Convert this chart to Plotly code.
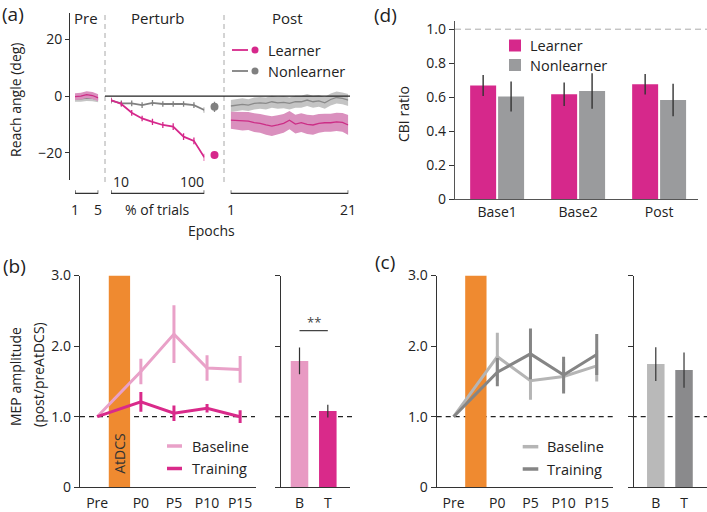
import plotly.graph_objects as go

W, H = 707, 512


def X(px):
    return px / W


def Y(py):
    return 1 - py / H


# ---------------- data ----------------
# (a) reach angle
pre_epochs = [1, 2, 3, 4, 5]
pre_learner = [-0.2, 0.0, 0.5, 0.2, -0.6]
pre_learner_sem = [1.2, 1.2, 1.2, 1.2, 1.2]
pre_nonlearner = [-1.0, -1.0, -0.7, -0.8, -1.2]
pre_nonlearner_sem = [1.0, 1.0, 1.0, 1.0, 1.0]

perturb_pct = [10, 20, 30, 40, 50, 60, 70, 80, 90, 100]
perturb_learner = [-1.4, -2.8, -5.9, -7.9, -9.1, -10.2, -10.8, -14.3, -15.8, -21.6]
perturb_learner_sem = [0.8, 0.9, 1.0, 1.0, 1.1, 1.1, 1.2, 1.2, 1.2, 1.3]
perturb_nonlearner = [-1.6, -2.6, -2.6, -3.2, -2.4, -2.8, -2.8, -2.8, -3.2, -4.9]
perturb_nonlearner_sem = [1.0, 1.0, 1.0, 1.0, 1.0, 1.0, 1.0, 1.0, 1.0, 1.0]

summary_learner = [-20.8]
summary_learner_sem = [1.2]
summary_nonlearner = [-3.8]
summary_nonlearner_sem = [1.8]

post_epochs = list(range(1, 22))
post_learner = [-8.5, -8.6, -8.9, -8.8, -9.4, -9.6, -10.2, -10.6, -10.2, -9.6, -8.5,
                -9.9, -9.4, -10.0, -10.2, -9.6, -9.4, -9.4, -9.1, -9.3, -10.2]
post_learner_sem = [3.0, 3.1, 3.2, 3.2, 3.3, 3.3, 3.4, 3.5, 3.4, 3.3, 3.2,
                    3.3, 3.3, 3.4, 3.4, 3.3, 3.2, 3.2, 3.2, 3.3, 3.5]
post_nonlearner = [-3.5, -3.2, -2.9, -3.2, -2.6, -2.4, -2.6, -2.0, -2.4, -2.2, -2.6,
                   -2.0, -2.0, -1.4, -2.0, -1.7, -2.4, -1.2, -0.5, -0.8, -1.4]
post_nonlearner_sem = [2.1] * 21

# (d) CBI ratio
cbi_conditions = ["Base1", "Base2", "Post"]
cbi_learner = [0.669, 0.618, 0.676]
cbi_learner_sem = [0.062, 0.069, 0.060]
cbi_nonlearner = [0.604, 0.637, 0.584]
cbi_nonlearner_sem = [0.088, 0.104, 0.096]

# (b)/(c) MEP amplitude
mep_labels = ["Pre", "P0", "P5", "P10", "P15"]
mep_time = [-6.6, 0, 5, 10, 15]
stim_window = [-4.85, -1.63]
stim_height = 3.0

b_baseline = [1.0, 1.64, 2.17, 1.69, 1.67]
b_baseline_sem = [0, 0.18, 0.41, 0.18, 0.19]
b_training = [1.0, 1.21, 1.05, 1.12, 1.0]
b_training_sem = [0, 0.14, 0.11, 0.06, 0.09]
b_bar_labels = ["B", "T"]
b_bar = [1.79, 1.08]
b_bar_sem = [0.19, 0.09]

c_baseline = [1.0, 1.85, 1.51, 1.57, 1.72]
c_baseline_sem = [0, 0.34, 0.27, 0.20, 0.22]
c_training = [1.0, 1.63, 1.89, 1.59, 1.88]
c_training_sem = [0, 0.20, 0.36, 0.26, 0.29]
c_bar_labels = ["B", "T"]
c_bar = [1.745, 1.66]
c_bar_sem = [0.24, 0.25]

# ---------------- style ----------------
MAG = "#D6288B"
MAG_BAND = "#DA90BE"
MAG_LINE = "#CC2E86"
GRY = "#808080"
GRY_BAND = "#C4C4C4"
GRY_LINE = "#8A8A8A"
ORANGE = "#EF8A30"
B_PINK = "#E9A1C8"
B_PINK_BAR = "#E89AC3"
T_PINK = "#D92A8A"
C_LIGHT = "#B5B5B5"
C_DARK = "#858585"
AX = "#333333"
FONT = "Open Sans"

fig = go.Figure()


def band(xs, m, s, xaxis, fillcolor, linecolor):
    up = [a + b for a, b in zip(m, s)]
    lo = [a - b for a, b in zip(m, s)]
    fig.add_trace(go.Scatter(x=list(xs) + list(xs)[::-1], y=up + lo[::-1], fill="toself",
                             fillcolor=fillcolor, line=dict(width=0), mode="lines",
                             xaxis=xaxis, yaxis="y", hoverinfo="skip"))
    fig.add_trace(go.Scatter(x=xs, y=m, mode="lines", line=dict(color=linecolor, width=1.3),
                             xaxis=xaxis, yaxis="y", hoverinfo="skip"))


# ---- (a) ----
band(pre_epochs, pre_nonlearner, pre_nonlearner_sem, "x", GRY_BAND, GRY_LINE)
band(pre_epochs, pre_learner, pre_learner_sem, "x", MAG_BAND, MAG_LINE)
band(post_epochs, post_nonlearner, post_nonlearner_sem, "x4", GRY_BAND, GRY_LINE)
band(post_epochs, post_learner, post_learner_sem, "x4", MAG_BAND, MAG_LINE)

fig.add_trace(go.Scatter(x=perturb_pct, y=perturb_nonlearner, mode="lines", xaxis="x2", yaxis="y",
                         line=dict(color=GRY, width=1.8),
                         error_y=dict(type="data", array=perturb_nonlearner_sem, color=GRY,
                                      thickness=1.3, width=0)))
fig.add_trace(go.Scatter(x=perturb_pct, y=perturb_learner, mode="lines", xaxis="x2", yaxis="y",
                         line=dict(color=MAG, width=1.8),
                         error_y=dict(type="data", array=perturb_learner_sem, color=MAG,
                                      thickness=1.3, width=0)))
fig.add_trace(go.Scatter(x=[0], y=summary_nonlearner, mode="markers", xaxis="x3", yaxis="y",
                         marker=dict(color=GRY, size=8),
                         error_y=dict(type="data", array=summary_nonlearner_sem, color=GRY,
                                      thickness=1.3, width=0)))
fig.add_trace(go.Scatter(x=[0], y=summary_learner, mode="markers", xaxis="x3", yaxis="y",
                         marker=dict(color=MAG, size=8),
                         error_y=dict(type="data", array=summary_learner_sem, color=MAG,
                                      thickness=1.3, width=0)))

# ---- (d) ----
fig.add_trace(go.Bar(x=cbi_conditions, y=cbi_learner, marker=dict(color=MAG, line=dict(width=0)),
                     xaxis="x5", yaxis="y5",
                     error_y=dict(type="data", array=cbi_learner_sem, color="#333", thickness=1.4, width=0)))
fig.add_trace(go.Bar(x=cbi_conditions, y=cbi_nonlearner, marker=dict(color="#9A9B9D", line=dict(width=0)),
                     xaxis="x5", yaxis="y5",
                     error_y=dict(type="data", array=cbi_nonlearner_sem, color="#333", thickness=1.4, width=0)))


# ---- (b) & (c) ----
def mep_panel(xa, ya, xr, yr, base, base_sem, train, train_sem, cbase, ctrain,
              bar_labels, bars, bars_sem, bar_colors):
    fig.add_trace(go.Bar(x=[(stim_window[0] + stim_window[1]) / 2], y=[stim_height],
                         width=[stim_window[1] - stim_window[0]],
                         marker=dict(color=ORANGE, line=dict(width=0)), xaxis=xa, yaxis=ya))
    fig.add_trace(go.Scatter(x=mep_time, y=base, mode="lines", xaxis=xa, yaxis=ya,
                             line=dict(color=cbase, width=3),
                             error_y=dict(type="data", array=base_sem, color=cbase, thickness=3, width=0)))
    fig.add_trace(go.Scatter(x=mep_time, y=train, mode="lines", xaxis=xa, yaxis=ya,
                             line=dict(color=ctrain, width=3),
                             error_y=dict(type="data", array=train_sem, color=ctrain, thickness=3, width=0)))
    fig.add_trace(go.Bar(x=bar_labels, y=bars, width=0.62,
                         marker=dict(color=bar_colors, line=dict(width=0)), xaxis=xr, yaxis=yr,
                         error_y=dict(type="data", array=bars_sem, color="#333", thickness=1.2, width=0)))


mep_panel("x6", "y6", "x7", "y7", b_baseline, b_baseline_sem, b_training, b_training_sem,
          B_PINK, T_PINK, b_bar_labels, b_bar, b_bar_sem, [B_PINK_BAR, T_PINK])
mep_panel("x8", "y8", "x9", "y9", c_baseline, c_baseline_sem, c_training, c_training_sem,
          C_LIGHT, C_DARK, c_bar_labels, c_bar, c_bar_sem, ["#B9B9B9", "#8A8A8C"])

# ---------------- axes ----------------
hidden = dict(visible=False, showgrid=False, zeroline=False, fixedrange=True, automargin=False)
yb = [Y(487.3), Y(275.5)]
common_y = dict(showgrid=False, zeroline=False, showline=True, linecolor=AX, linewidth=1.4,
                ticks="outside", ticklen=5, tickcolor=AX, tickwidth=1.3, automargin=False,
                tickfont=dict(size=14, color="#222"))
common_x = dict(showgrid=False, zeroline=False, showline=True, linecolor=AX, linewidth=1.4,
                ticks="", automargin=False, tickfont=dict(size=14, color="#222"))

fig.update_layout(
    width=W, height=H, margin=dict(l=0, r=0, t=0, b=0, pad=0, autoexpand=False),
    paper_bgcolor="white", plot_bgcolor="white", showlegend=False,
    font=dict(family=FONT, size=14, color="#222"),
    barmode="group", bargap=0.31, bargroupgap=0.07,
    # (a)
    yaxis=dict(common_y, domain=[Y(180), Y(13)], range=[-29.6, 29.3], anchor="free",
               position=X(69.3), tickvals=[-20, 0, 20], ticklen=4),
    xaxis=dict(hidden, domain=[X(75), X(98.3)], range=[1, 5], anchor="y"),
    xaxis2=dict(hidden, domain=[X(111), X(204.3)], range=[10, 100], anchor="y"),
    xaxis3=dict(hidden, domain=[X(208), X(221)], range=[-1, 1], anchor="y"),
    xaxis4=dict(hidden, domain=[X(230.7), X(348.3)], range=[1, 21], anchor="y"),
    # (d)
    xaxis5=dict(common_x, domain=[X(455), X(698)], range=[-0.52, 2.48], anchor="y5",
                linecolor="#555"),
    yaxis5=dict(common_y, domain=[Y(199.3), Y(20.7)], range=[0, 1.05], anchor="x5",
                linecolor="#555", tickvals=[0, 0.2, 0.4, 0.6, 0.8, 1.0],
                ticktext=["0", "0.2", "0.4", "0.6", "0.8", "1.0"]),
    # (b)
    xaxis6=dict(common_x, domain=[X(80), X(256)], range=[-9.2, 17.4], anchor="y6",
                tickvals=mep_time, ticktext=mep_labels, ticklabelstandoff=3),
    yaxis6=dict(common_y, domain=yb, range=[0, 3], anchor="x6", tickvals=[0, 1, 2, 3],
                ticktext=["0", "1.0", "2.0", "3.0"]),
    xaxis7=dict(common_x, domain=[X(281), X(350)], range=[-0.654, 1.784], anchor="y7",
                type="category", ticklabelstandoff=3),
    yaxis7=dict(common_y, domain=yb, range=[0, 3], anchor="x7", tickvals=[0, 1, 2, 3],
                showticklabels=False),
    # (c)
    xaxis8=dict(common_x, domain=[X(436.7), X(613.3)], range=[-9.15, 17.5], anchor="y8",
                tickvals=mep_time, ticktext=mep_labels, ticklabelstandoff=3),
    yaxis8=dict(common_y, domain=yb, range=[0, 3], anchor="x8", tickvals=[0, 1, 2, 3],
                ticktext=["0", "1.0", "2.0", "3.0"]),
    xaxis9=dict(common_x, domain=[X(634), 1.0], range=[-0.772, 1.814], anchor="y9",
                type="category", ticklabelstandoff=3),
    yaxis9=dict(common_y, domain=yb, range=[0, 3], anchor="x9", tickvals=[0, 1, 2, 3],
                showticklabels=False),
)

# ---------------- shapes ----------------
shapes = []
# (a) dividers and zero line
for px in (105, 224):
    shapes.append(dict(type="line", xref="paper", yref="paper", x0=X(px), x1=X(px),
                       y0=Y(182), y1=Y(13), line=dict(color="#A8A8A8", width=1, dash="5px,4px")))
shapes.append(dict(type="line", xref="paper", yref="y", x0=X(105), x1=X(350), y0=0, y1=0,
                   line=dict(color="#222", width=1.3)))
# brackets under (a)
tk = 3 / H
for xa, xs in (("x", pre_epochs), ("x2", perturb_pct), ("x4", post_epochs)):
    a0, a1 = min(xs), max(xs)
    y0 = Y(193.3)
    shapes.append(dict(type="path", xref=xa, yref="paper",
                       path=f"M {a0},{y0 + tk} L {a0},{y0} L {a1},{y0} L {a1},{y0 + tk}",
                       line=dict(color=AX, width=1.3)))
# (d) dashed reference at 1.0
shapes.append(dict(type="line", xref="paper", yref="y5", x0=X(455), x1=1.0, y0=1.0, y1=1.0,
                   line=dict(color="#AAAAAA", width=1, dash="6px,4px"), layer="below"))
# (b),(c) dashed at 1.0
for ya, x0, x1 in (("y6", 80, 255), ("y7", 275, 352), ("y8", 436.7, 613.3), ("y9", 631.7, 707)):
    shapes.append(dict(type="line", xref="paper", yref=ya, x0=X(x0), x1=X(x1), y0=1.0, y1=1.0,
                       line=dict(color="#222", width=1.2, dash="5px,4px"), layer="below"))
# significance bar in (b)
shapes.append(dict(type="line", xref="x7", yref="y7", x0=0, x1=1, y0=2.22, y1=2.22,
                   line=dict(color="#444", width=1.2)))

# legends (a)
for yy, col in ((50, MAG), (71, GRY)):
    shapes.append(dict(type="line", xref="paper", yref="paper", x0=X(232), x1=X(248),
                       y0=Y(yy), y1=Y(yy), line=dict(color=col, width=1.8)))
    shapes.append(dict(type="circle", xref="paper", yref="paper", x0=X(251.5), x1=X(258.5),
                       y0=Y(yy + 3.5), y1=Y(yy - 3.5), fillcolor=col, line=dict(width=0)))
# legend (d)
for yy, col in ((45.5, MAG), (65, "#9A9B9D")):
    shapes.append(dict(type="rect", xref="paper", yref="paper", x0=X(509), x1=X(521),
                       y0=Y(yy + 6), y1=Y(yy - 6), fillcolor=col, line=dict(width=0)))
# legends (b), (c)
for x0, x1, yy, col in ((167, 182, 446, B_PINK), (167, 182, 468.5, T_PINK),
                        (522.7, 538.3, 446.7, C_LIGHT), (522.7, 538.3, 469, C_DARK)):
    shapes.append(dict(type="line", xref="paper", yref="paper", x0=X(x0), x1=X(x1),
                       y0=Y(yy), y1=Y(yy), line=dict(color=col, width=3.5)))
fig.update_layout(shapes=shapes)

# ---------------- annotations ----------------
ann = []


def txt(text, x, y, size=14, xref="paper", yref="paper", xanchor="center", angle=0, color="#222", **kw):
    ann.append(dict(text=text, x=x, y=y, xref=xref, yref=yref, showarrow=False, xanchor=xanchor,
                    yanchor="middle", textangle=angle, font=dict(size=size, color=color, family=FONT), **kw))


# panel labels
txt("(a)", X(13), Y(14), size=19)
txt("(d)", X(385), Y(15), size=19)
txt("(b)", X(14), Y(266), size=19)
txt("(c)", X(385), Y(262), size=19)
# (a)
txt("Pre", X(86), Y(18), size=15)
txt("Perturb", X(157), Y(18), size=15)
txt("Post", X(287), Y(18), size=15)
txt("Reach angle (deg)", X(15), Y(100), angle=-90)
txt("Epochs", X(211.7), Y(230.7))
txt("% of trials", X(157.7), Y(209.3))
txt(str(pre_epochs[0]), pre_epochs[0], Y(209.3), xref="x")
txt(str(pre_epochs[-1]), pre_epochs[-1], Y(209.3), xref="x")
txt(str(perturb_pct[0]), perturb_pct[0], Y(181.7), xref="x2", xanchor="left")
txt(str(perturb_pct[-1]), perturb_pct[-1], Y(181.7), xref="x2", xanchor="right", xshift=2)
txt(str(post_epochs[0]), post_epochs[0], Y(209.3), xref="x4")
txt(str(post_epochs[-1]), post_epochs[-1], Y(209.3), xref="x4")
txt("Learner", X(266), Y(50), size=14.5, xanchor="left")
txt("Nonlearner", X(266), Y(71), size=14.5, xanchor="left")
# (d)
txt("CBI ratio", X(403), Y(114), angle=-90)
txt("Learner", X(528), Y(45.5), size=14.5, xanchor="left")
txt("Nonlearner", X(528), Y(65), size=14.5, xanchor="left")
# (b)
txt("MEP amplitude", X(15), Y(377), angle=-90)
txt("(post/preAtDCS)", X(38), Y(375), angle=-90)
txt("AtDCS", (stim_window[0] + stim_window[1]) / 2, 0.48, xref="x6", yref="y6", angle=-90, color="#333")
txt("**", 0.5, 2.34, xref="x7", yref="y7", size=13, color="#444")
txt("Baseline", X(190), Y(446), size=14.5, xanchor="left")
txt("Training", X(190), Y(468.5), size=14.5, xanchor="left")
# (c)
txt("Baseline", X(545), Y(446.7), size=14.5, xanchor="left")
txt("Training", X(545), Y(469), size=14.5, xanchor="left")
fig.update_layout(annotations=ann)

fig.write_html("out.html", config={"displayModeBar": False},
               post_script="document.body.style.margin='0';document.body.style.padding='0';")
